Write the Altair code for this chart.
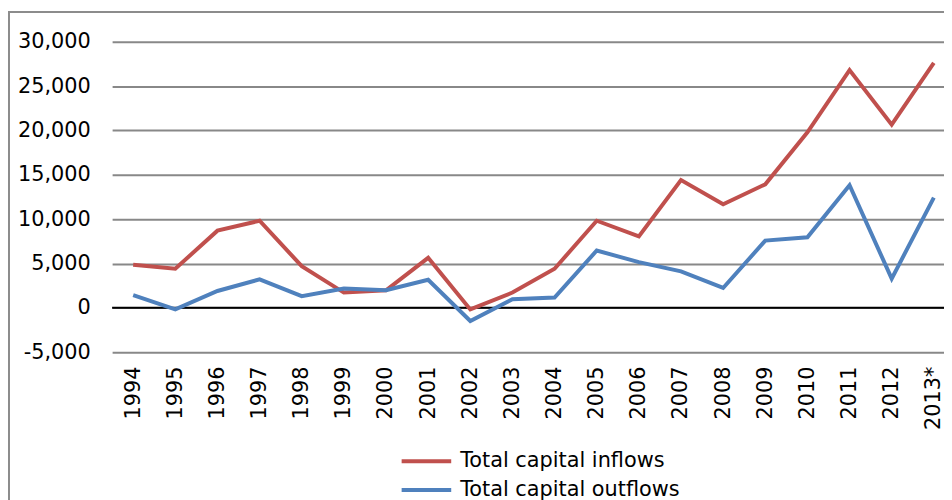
import altair as alt
import pandas as pd

years = ["1994", "1995", "1996", "1997", "1998", "1999", "2000", "2001", "2002", "2003",
         "2004", "2005", "2006", "2007", "2008", "2009", "2010", "2011", "2012", "2013*"]
inflows = [4860, 4410, 8700, 9820, 4700, 1720, 1980, 5640, -180, 1720,
           4410, 9820, 8060, 14410, 11690, 13930, 19790, 26810, 20650, 27630]
outflows = [1420, -180, 1900, 3210, 1310, 2170, 1980, 3170, -1490, 970,
            1160, 6460, 5150, 4110, 2240, 7580, 7950, 13820, 3290, 12430]
series = ["Total capital inflows", "Total capital outflows"]
colors = ["#C0504D", "#4F81BD"]
y_ticks = [-5000, 0, 5000, 10000, 15000, 20000, 25000, 30000]

rows = []
for name, vals in zip(series, [inflows, outflows]):
    for i, (yr, v) in enumerate(zip(years, vals)):
        rows.append({"Year": yr, "Value": v, "Series": name, "order": i})
df = pd.DataFrame(rows)

FONT = "DejaVu Sans"
W, H = 850, 313

y_axis = alt.Axis(title=None, values=y_ticks, domain=False, ticks=False,
                  labelExpr="replace(format(datum.value, ',.0f'), '\u2212', '-')",
                  gridColor="#888888", gridWidth=2, gridOpacity=1,
                  labelPadding=22, labelFontSize=21, labelFont=FONT, labelColor="#000")
y_scale = alt.Scale(domain=[-5000, 30000], nice=False, zero=False)

frame = alt.Chart(pd.DataFrame({"a": [0]})).mark_rect(
    fill="transparent", stroke="#8c8c8c", strokeWidth=2
).encode(
    x=alt.value(-104), x2=alt.value(W + 40), y=alt.value(-30), y2=alt.value(H + 300)
)

lines = alt.Chart(df).mark_line(strokeWidth=4, strokeJoin="miter").encode(
    x=alt.X("Year:N", sort=years,
            scale=alt.Scale(type="point", padding=0.5),
            axis=alt.Axis(title=None, labelAngle=-90, domain=False, ticks=False, grid=False,
                          labelPadding=14, labelFontSize=21, labelFont=FONT, labelColor="#000")),
    y=alt.Y("Value:Q", scale=y_scale, axis=y_axis),
    color=alt.Color("Series:N", scale=alt.Scale(domain=series, range=colors),
                    legend=alt.Legend(title=None, orient="none", legendX=290, legendY=411,
                                      symbolType="stroke", symbolSize=2500, symbolStrokeWidth=4,
                                      clipHeight=24, rowPadding=5,
                                      labelFontSize=21, labelFont=FONT, labelColor="#000",
                                      labelLimit=0, labelOffset=7, padding=0)),
    order="order:Q",
)

zero = alt.Chart(pd.DataFrame({"Value": [0]})).mark_rule(color="#000", strokeWidth=2).encode(
    y=alt.Y("Value:Q", scale=y_scale, axis=y_axis)
)

chart = alt.layer(frame, zero, lines).properties(
    width=W, height=H,
    autosize=alt.AutoSizeParams(type="none"),
    padding={"left": 105, "top": 32, "right": -11, "bottom": 147},
).configure_view(stroke=None)

chart.save("out.html", embed_options={"renderer": "svg", "actions": False})
